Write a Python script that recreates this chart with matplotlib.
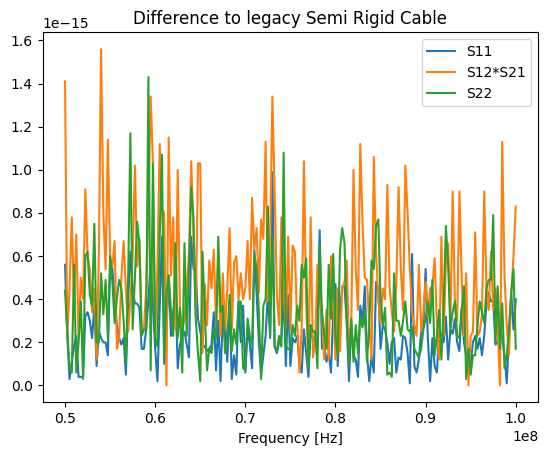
import numpy as np
import matplotlib
matplotlib.use("Agg")
import matplotlib.pyplot as plt

freq_start = 0.5e8
freq_stop = 1.0e8
n_points = 201

s11 = [
    0.56, 0.23, 0.03, 0.11, 0.18, 0.23, 0.04, 0.04, 0.04, 0.32,
    0.34, 0.30, 0.22, 0.37, 0.09, 0.25, 0.22, 0.20, 0.20, 0.14,
    0.56, 0.54, 0.40, 0.28, 0.22, 0.19, 0.22, 0.05, 0.40, 0.62,
    0.45, 0.38, 0.38, 0.36, 0.17, 0.17, 0.26, 0.40, 0.57, 0.37,
    0.17, 0.02, 0.35, 0.69, 0.10, 0.26, 0.51, 0.23, 0.34, 0.45,
    0.08, 0.19, 0.23, 0.25, 0.19, 0.13, 0.69, 0.54, 0.53, 0.31,
    0.25, 0.19, 0.18, 0.16, 0.17, 0.19, 0.34, 0.07, 0.30, 0.02,
    0.35, 0.31, 0.11, 0.39, 0.03, 0.14, 0.05, 0.39, 0.20, 0.37,
    0.06, 0.26, 0.19, 0.08, 0.63, 0.43, 0.20, 0.05, 0.14, 0.23,
    0.43, 0.22, 0.99, 0.18, 0.15, 0.20, 0.22, 0.42, 0.09, 0.42,
    0.09, 0.22, 0.20, 0.23, 0.11, 0.06, 0.26, 0.15, 0.04, 0.25,
    0.22, 0.20, 0.33, 0.72, 0.17, 0.19, 0.11, 0.15, 0.06, 0.34,
    0.47, 0.09, 0.34, 0.46, 0.46, 0.29, 0.02, 0.29, 0.14, 0.12,
    0.04, 0.37, 0.29, 0.46, 0.14, 0.02, 0.14, 0.06, 0.48, 0.45,
    0.17, 0.28, 0.26, 0.20, 0.10, 0.20, 0.22, 0.06, 0.13, 0.12,
    0.23, 0.22, 0.15, 0.01, 0.61, 0.09, 0.06, 0.12, 0.25, 0.27,
    0.54, 0.22, 0.02, 0.22, 0.09, 0.06, 0.25, 0.23, 0.20, 0.32,
    0.12, 0.26, 0.24, 0.31, 0.20, 0.16, 0.36, 0.20, 0.14, 0.15,
    0.10, 0.20, 0.23, 0.17, 0.22, 0.14, 0.23, 0.38, 0.43, 0.39,
    0.39, 0.19, 0.20, 0.26, 0.22, 0.14, 0.01, 0.23, 0.43, 0.26,
    0.40,
]

s12s21 = [
    1.41, 0.23, 0.45, 0.78, 0.38, 0.70, 0.22, 0.50, 0.40, 0.91,
    0.60, 0.54, 0.34, 0.45, 0.12, 0.60, 1.56, 0.80, 0.54, 1.14,
    0.60, 0.55, 0.67, 0.17, 0.22, 0.50, 0.67, 0.45, 0.25, 0.40,
    0.60, 1.02, 0.55, 0.68, 0.25, 0.26, 0.45, 0.85, 1.34, 1.03,
    0.22, 0.55, 1.12, 0.82, 0.80, 0.00, 1.15, 0.51, 0.78, 0.26,
    1.00, 0.35, 0.25, 0.31, 0.45, 0.62, 1.04, 0.69, 0.31, 1.03,
    1.03, 0.15, 0.47, 0.28, 0.58, 0.45, 0.63, 0.30, 0.59, 0.23,
    0.52, 0.26, 0.45, 0.73, 0.26, 0.57, 0.60, 0.40, 0.52, 0.40,
    0.45, 0.67, 0.40, 0.87, 0.63, 0.73, 0.43, 0.77, 0.68, 1.13,
    0.39, 0.66, 1.34, 0.91, 0.42, 0.28, 0.78, 0.43, 0.26, 0.69,
    0.26, 0.65, 0.62, 0.29, 0.06, 0.26, 1.04, 0.39, 0.08, 0.78,
    0.13, 0.20, 0.56, 0.39, 0.34, 0.12, 0.35, 0.12, 0.60, 0.39,
    0.12, 0.45, 0.16, 0.45, 0.48, 0.58, 0.16, 0.28, 1.00, 0.54,
    0.35, 1.12, 0.76, 0.50, 0.49, 0.28, 0.12, 1.06, 0.62, 0.40,
    0.29, 0.45, 0.40, 0.93, 0.46, 0.34, 0.25, 0.48, 0.92, 0.54,
    0.35, 1.02, 0.80, 0.54, 0.34, 0.28, 0.23, 0.56, 0.25, 0.34,
    0.48, 0.32, 0.45, 0.46, 0.59, 0.29, 0.12, 0.69, 0.23, 0.57,
    0.66, 0.27, 0.90, 0.39, 0.30, 0.90, 0.50, 0.23, 0.52, 0.00,
    0.23, 0.25, 0.71, 0.23, 0.25, 0.33, 0.90, 0.45, 0.35, 0.62,
    0.35, 0.45, 0.26, 0.00, 1.13, 0.51, 0.28, 0.14, 0.43, 0.60,
    0.83,
]

s22 = [
    0.44, 0.25, 0.08, 0.06, 0.56, 0.06, 0.20, 0.39, 0.03, 0.60,
    0.62, 0.42, 0.37, 0.75, 0.20, 0.20, 0.52, 0.33, 0.49, 0.22,
    0.60, 0.48, 0.29, 0.40, 0.49, 0.45, 0.30, 0.10, 0.50, 1.17,
    0.26, 0.50, 0.76, 0.66, 0.23, 0.26, 0.26, 1.43, 0.07, 1.03,
    0.22, 0.18, 0.69, 1.07, 0.14, 0.42, 0.51, 0.35, 0.23, 0.66,
    0.22, 0.36, 0.06, 0.66, 0.23, 0.54, 0.92, 0.78, 0.31, 0.15,
    0.02, 0.62, 0.34, 0.07, 0.17, 0.15, 0.26, 0.22, 0.69, 0.34,
    0.37, 0.15, 0.20, 0.42, 0.16, 0.26, 0.19, 0.39, 0.39, 0.08,
    0.07, 0.31, 0.23, 0.19, 0.61, 0.54, 0.35, 0.03, 0.37, 0.40,
    0.83, 0.23, 0.69, 0.18, 0.16, 0.23, 0.18, 1.08, 0.18, 0.17,
    0.17, 0.28, 0.23, 0.37, 0.30, 0.56, 0.50, 0.59, 0.08, 0.28,
    0.25, 0.25, 0.08, 0.65, 0.34, 0.24, 0.17, 0.56, 0.31, 0.61,
    0.23, 0.14, 0.63, 0.73, 0.66, 0.31, 0.10, 0.31, 0.11, 0.28,
    0.15, 0.32, 0.27, 0.34, 0.11, 0.28, 0.58, 0.54, 0.74, 0.77,
    0.40, 0.28, 0.36, 0.05, 0.06, 0.04, 0.52, 0.30, 0.30, 0.23,
    0.30, 0.39, 0.26, 0.25, 0.27, 0.17, 0.15, 0.13, 0.17, 0.26,
    0.31, 0.39, 0.29, 0.49, 0.14, 0.23, 0.35, 0.12, 0.37, 0.74,
    0.56, 0.26, 0.34, 0.39, 0.23, 0.22, 0.35, 0.46, 0.03, 0.17,
    0.05, 0.14, 0.14, 0.28, 0.39, 0.34, 0.29, 0.45, 0.49, 0.49,
    0.79, 0.20, 0.46, 0.17, 0.38, 0.08, 0.14, 0.26, 0.43, 0.54,
    0.17,
]

series_labels = ["S11", "S12*S21", "S22"]
scale = 1e-15

freq = np.linspace(freq_start, freq_stop, n_points)

fig = plt.figure(figsize=(5.47, 4.55), dpi=100)
ax = fig.add_axes([0.0777, 0.1158, 0.9064, 0.8132])
for vals, lab in zip([s11, s12s21, s22], series_labels):
    ax.plot(freq, np.array(vals) * scale, label=lab)
ax.set_title("Difference to legacy Semi Rigid Cable")
ax.set_xlabel("Frequency [Hz]")
ax.legend(loc="upper right")
fig.savefig("out.png", dpi=100)
